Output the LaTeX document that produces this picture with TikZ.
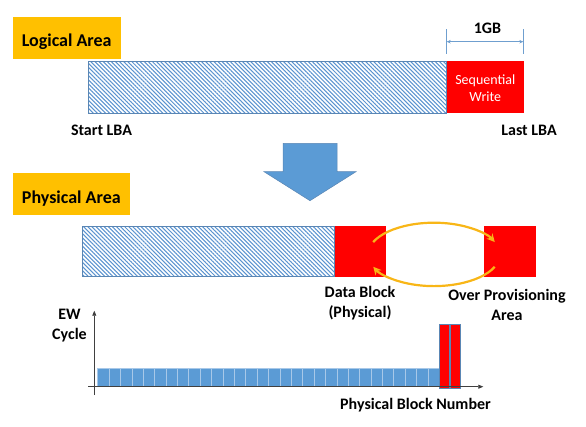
\documentclass[tikz,border=0pt]{standalone}
\usepackage{fontspec}
\setmainfont{Carlito}
\usetikzlibrary{patterns.meta,arrows.meta,calc}
\definecolor{gold}{HTML}{FFC000}
\definecolor{hatchblue}{HTML}{5B93CF}
\definecolor{edgeblue}{HTML}{5A86B4}
\definecolor{barblue}{HTML}{5B9BD5}
\definecolor{barline}{HTML}{A8C8E8}
\definecolor{axisgray}{HTML}{404040}
\definecolor{dimblue}{HTML}{6F9FCF}
\definecolor{cycorange}{HTML}{F8B617}
\begin{document}
\begin{tikzpicture}[x=1pt,y=1pt,yscale=-1,
  lbl/.style={font=\bfseries\fontsize{16}{19.7}\selectfont, align=center, inner sep=0pt, text=black},
  titlebox/.style={fill=gold, draw=none, font=\bfseries\fontsize{18}{22}\selectfont, inner sep=0pt, text=black, text height=17.8pt, text depth=0pt},
  hatched/.style={pattern={Lines[angle=-45,distance=2.9pt,line width=1.05pt]}, pattern color=hatchblue, draw=edgeblue, line width=0.6pt},
  redblk/.style={fill=red, draw=none},
  swtext/.style={font=\fontsize{14}{17.4}\selectfont, align=center, inner sep=0pt, text=white},
  dimline/.style={draw=dimblue, line width=0.6pt},
  dimarrow/.style={draw=dimblue, line width=0.6pt, {Stealth[length=4pt,width=3.5pt]}-{Stealth[length=4pt,width=3.5pt]}},
  bigarrow/.style={fill=barblue, draw=edgeblue, line width=0.5pt},
  cycarrow/.style={draw=cycorange, line width=2.2pt, -{Stealth[length=8pt,width=8pt]}},
  axis/.style={draw=axisgray, line width=0.7pt, -{Triangle[length=5pt,width=4pt]}},
  ewbar/.style={fill=barblue, draw=barline, line width=0.7pt},
  redbar/.style={fill=red, draw=edgeblue, line width=0.6pt}
]
\useasboundingbox (0,0) rectangle (586,426);

% ---------- Logical area ----------
\node[titlebox, minimum width=108pt, minimum height=42.3pt] (logical) at (66.7,37.85) {Logical Area};
\draw[hatched] (88.3,61) rectangle (446.7,113);
\fill[redblk] (446.7,61) rectangle (524,113);
\node[swtext] (seqw) at (485.3,88.1) {Sequential\\Write};

% 1GB dimension
\coordinate (e1t) at (446.7,29);
\coordinate (e1b) at (446.7,54);
\coordinate (e2t) at (523.3,29);
\coordinate (e2b) at (523.3,54);
\coordinate (d1) at (446.7,41.7);
\coordinate (d2) at (523.3,41.7);
\draw[dimline] (e1t) -- (e1b);
\draw[dimline] (e2t) -- (e2b);
\draw[dimarrow] (d1) -- (d2);
\node[lbl, anchor=base] (gb) at (487.5,33.3) {1GB};

\node[lbl, anchor=base] (startlba) at (101.5,135) {Start LBA};
\node[lbl, anchor=base] (lastlba) at (529,135) {Last LBA};

% ---------- big arrow ----------
\draw[bigarrow] (283,143.3) -- (337,143.3) -- (337,171.7) -- (356,171.7) -- (310,200.7) -- (264,171.7) -- (283,171.7) -- cycle;

% ---------- Physical area ----------
\node[titlebox, minimum width=117.3pt, minimum height=42pt] (physical) at (71.35,194.3) {Physical Area};
\draw[hatched] (82.7,226) rectangle (334.5,276.5);
\fill[redblk] (334.5,226) rectangle (386,276.5);
\fill[redblk] (484.3,226) rectangle (536,276.5);

\coordinate (cyc) at (434,254.4);
\draw[cycarrow] ($(cyc)+(203:66pt and 31.7pt)$) arc[start angle=203, end angle=337, x radius=66pt, y radius=31.7pt];
\draw[cycarrow] ($(cyc)+(23:66pt and 31.7pt)$) arc[start angle=23, end angle=157, x radius=66pt, y radius=31.7pt];

\node[lbl] (datablock) at (360,303.1) {Data Block\\(Physical)};
\node[lbl] (overprov) at (507,305.1) {Over Provisioning\\Area};

% ---------- chart ----------
\coordinate (yb) at (94.3,395);
\coordinate (yt) at (94.3,310.7);
\coordinate (xl) at (88.3,386.7);
\coordinate (xr) at (483.3,386.7);
\foreach \i in {0,...,29} {
  \draw[ewbar] ({97.7+11.39*\i},368.3) rectangle ({97.7+11.39*(\i+1)},386.5);
}
\draw[redbar] (439.3,324.3) rectangle (449.3,388.3);
\draw[redbar] (450.3,324.3) rectangle (460.3,388.3);
\draw[axis] (yb) -- (yt);
\draw[axis] (xl) -- (xr);

\node[lbl] (ewcycle) at (69.5,325.8) {EW\\Cycle};
\node[lbl, anchor=base] (pbn) at (415.5,409) {Physical Block Number};
\end{tikzpicture}
\end{document}
